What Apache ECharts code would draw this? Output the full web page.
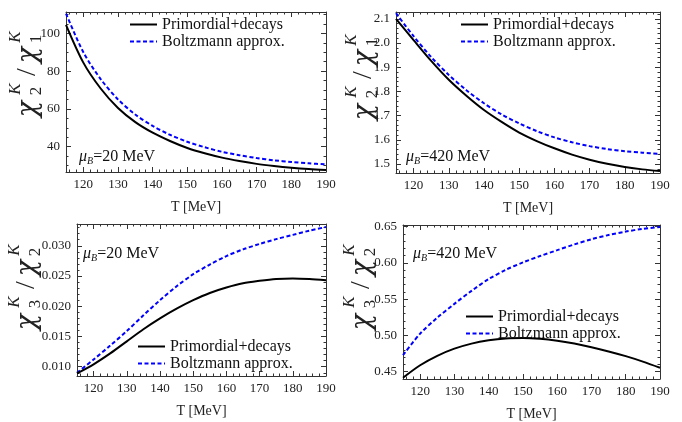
<!DOCTYPE html>
<html>
<head>
<meta charset="utf-8">
<script src="https://cdn.jsdelivr.net/npm/echarts@6/dist/echarts.min.js"></script>
<style>
  html, body { margin: 0; padding: 0; background: #fff; }
  #chart { width: 682px; height: 422px; }
</style>
</head>
<body>
<div id="chart"></div>
<script>
// temperature grid (MeV)
const T = [115, 120, 125, 130, 135, 140, 145, 150, 155, 160, 165, 170, 175, 180, 185, 190]

// chi2/chi1, muB = 20 MeV
const p1Primordial = [104.5, 84.5, 70.8, 60.5, 53.0, 47.4, 43.0, 39.3, 36.5, 34.2, 32.4, 30.9, 29.8, 28.9, 28.2, 27.7]
const p1Boltzmann = [110.5, 90.0, 75.8, 65.0, 57.0, 51.0, 46.3, 42.6, 39.7, 37.3, 35.5, 34.0, 32.8, 31.9, 31.2, 30.6]
// chi2/chi1, muB = 420 MeV
const p2Primordial = [2.100, 2.012, 1.926, 1.848, 1.782, 1.723, 1.674, 1.630, 1.595, 1.565, 1.539, 1.518, 1.501, 1.488, 1.478, 1.471]
const p2Boltzmann = [2.123, 2.028, 1.942, 1.868, 1.805, 1.751, 1.705, 1.668, 1.636, 1.610, 1.590, 1.574, 1.562, 1.553, 1.547, 1.542]
// chi3/chi2, muB = 20 MeV
const p3Primordial = [0.0089, 0.0104, 0.0122, 0.0142, 0.0162, 0.0180, 0.0196, 0.0210, 0.0222, 0.0231, 0.0238, 0.0242, 0.0245, 0.0246, 0.0245, 0.0243]
const p3Boltzmann = [0.0090, 0.0112, 0.0135, 0.0159, 0.0185, 0.0210, 0.0233, 0.0253, 0.0269, 0.0283, 0.0294, 0.0303, 0.0311, 0.0318, 0.0325, 0.0331]
// chi3/chi2, muB = 420 MeV
const p4Primordial = [0.4418, 0.4590, 0.4720, 0.4818, 0.4888, 0.4934, 0.4960, 0.4966, 0.4955, 0.4928, 0.4888, 0.4838, 0.4780, 0.4715, 0.4640, 0.4555]
const p4Boltzmann = [0.4728, 0.5025, 0.5245, 0.5436, 0.5615, 0.5778, 0.5905, 0.6007, 0.6095, 0.6176, 0.6255, 0.6327, 0.6385, 0.6432, 0.6470, 0.6495]

// tick labels
const xTicks = [120, 130, 140, 150, 160, 170, 180, 190]
const p1Ticks = [40, 60, 80, 100]
const p2Ticks = [1.5, 1.6, 1.7, 1.8, 1.9, 2.0, 2.1]
const p3Ticks = [0.010, 0.015, 0.020, 0.025, 0.030]
const p4Ticks = [0.45, 0.50, 0.55, 0.60, 0.65]

const seriesNames = ['Primordial+decays', 'Boltzmann approx.']
const serif = 'Liberation Serif'
const frame = '#333'

// minor tick positions between min and max
const minorTicks = (min, max, step) => {
    const out = []
    const start = Math.ceil(min / step - 1e-9)
    for (let k = start; k * step <= max + 1e-9; k++) out.push(+(k * step).toFixed(6))
    return out
}

const xAxes = []
const yAxes = []
const series = []

function addPanel(g, p) {
    const xi = xAxes.length
    const yi = yAxes.length
    const xMinor = minorTicks(115, 190, 2)
    const yMinor = minorTicks(p.ymin, p.ymax, p.minor)
    const base = (extra) => Object.assign({
        gridIndex: g, type: 'value', splitLine: { show: false },
        axisLabel: { show: false }
    }, extra)
    const line = { show: true, onZero: false, lineStyle: { color: frame, width: 1 } }
    const tick = (vals, len) => ({ show: true, inside: true, length: len, customValues: vals, lineStyle: { color: frame, width: 1 } })

    // bottom
    xAxes.push(base({
        position: 'bottom', min: 115, max: 190, axisLine: line, axisTick: tick(xTicks, 5),
        axisLabel: { show: true, customValues: xTicks, fontFamily: serif, fontSize: 13, color: '#222', margin: 6 },
        name: 'T [MeV]', nameLocation: 'middle', nameGap: 28,
        nameTextStyle: { fontFamily: serif, fontSize: 14, color: '#222' }
    }))
    xAxes.push(base({ position: 'bottom', min: 115, max: 190, axisLine: { show: false }, axisTick: tick(xMinor, 2.5) }))
    // top
    xAxes.push(base({ position: 'top', min: 115, max: 190, axisLine: line, axisTick: tick(xTicks, 5) }))
    xAxes.push(base({ position: 'top', min: 115, max: 190, axisLine: { show: false }, axisTick: tick(xMinor, 2.5) }))
    // left
    yAxes.push(base({
        position: 'left', min: p.ymin, max: p.ymax, axisLine: line, axisTick: tick(p.ticks, 5),
        axisLabel: { show: true, customValues: p.ticks, fontFamily: serif, fontSize: 13, color: '#222', margin: 6, formatter: p.fmt }
    }))
    yAxes.push(base({ position: 'left', min: p.ymin, max: p.ymax, axisLine: { show: false }, axisTick: tick(yMinor, 2.5) }))
    // right
    yAxes.push(base({ position: 'right', min: p.ymin, max: p.ymax, axisLine: line, axisTick: tick(p.ticks, 5) }))
    yAxes.push(base({ position: 'right', min: p.ymin, max: p.ymax, axisLine: { show: false }, axisTick: tick(yMinor, 2.5) }))

    series.push({
        name: seriesNames[0], type: 'line', xAxisIndex: xi, yAxisIndex: yi,
        data: T.map((t, i) => [t, p.primordial[i]]),
        showSymbol: false, symbol: 'none', smooth: 0.3,
        lineStyle: { color: '#000', width: 2 }, itemStyle: { color: '#000' }, z: 3
    })
    series.push({
        name: seriesNames[1], type: 'line', xAxisIndex: xi, yAxisIndex: yi,
        data: T.map((t, i) => [t, p.boltzmann[i]]),
        showSymbol: false, symbol: 'none', smooth: 0.3,
        lineStyle: { color: '#0000ff', width: 2, type: [4, 2.5] }, itemStyle: { color: '#0000ff' }, z: 2
    })
}

const grids = [
    { left: 66, top: 12, width: 260, height: 160 },
    { left: 396, top: 12, width: 264, height: 161 },
    { left: 77, top: 224, width: 249, height: 152 },
    { left: 403, top: 225, width: 257, height: 155 }
]

addPanel(0, { ymin: 26.6, ymax: 111.3, ticks: p1Ticks, minor: 5, fmt: v => v.toFixed(0), primordial: p1Primordial, boltzmann: p1Boltzmann })
addPanel(1, { ymin: 1.463, ymax: 2.128, ticks: p2Ticks, minor: 0.02, fmt: v => v.toFixed(1), primordial: p2Primordial, boltzmann: p2Boltzmann })
addPanel(2, { ymin: 0.00847, ymax: 0.0336, ticks: p3Ticks, minor: 0.001, fmt: v => v.toFixed(3), primordial: p3Primordial, boltzmann: p3Boltzmann })
addPanel(3, { ymin: 0.44, ymax: 0.6523, ticks: p4Ticks, minor: 0.01, fmt: v => v.toFixed(2), primordial: p4Primordial, boltzmann: p4Boltzmann })

// legends, one per panel
const legendAt = [[129, 16], [460, 16], [137, 338], [465, 308]]
const legends = legendAt.map(([l, t]) => ({
    data: seriesNames, orient: 'vertical', left: l, top: t, padding: 0,
    itemWidth: 27, itemHeight: 17, itemGap: 0, selectedMode: false,
    itemStyle: { opacity: 0 },
    lineStyle: { width: 2, opacity: 1 },
    textStyle: { fontFamily: serif, fontSize: 16, color: '#111', lineHeight: 17 }
}))

// chi ratio y-axis title, drawn rotated
function chiLabel(cx, cy, a, b) {
    const chi = (x) => ({ type: 'text', x: x, y: 0, style: { text: 'χ', font: 'italic 27px "DejaVu Serif"', fill: '#222', align: 'center', verticalAlign: 'middle' } })
    const small = (x, y, s, it) => ({ type: 'text', x: x, y: y, style: { text: s, font: (it ? 'italic ' : '') + '17px "Liberation Serif"', fill: '#222', align: 'center', verticalAlign: 'middle' } })
    return {
        type: 'group', x: cx, y: cy, rotation: Math.PI / 2,
        children: [
            chi(-34), small(-14, -13, 'K', true), small(-16, 8, a, false),
            { type: 'text', x: 3, y: -1, style: { text: '/', font: '28px "Liberation Serif"', fill: '#222', align: 'center', verticalAlign: 'middle' } },
            chi(20), small(38, -13, 'K', true), small(36, 8, b, false)
        ]
    }
}

function muLabel(x, y, val) {
    return {
        type: 'text', x: x, y: y,
        style: {
            text: '{m|μ}{s|B}{n|=' + val + ' MeV}',
            verticalAlign: 'middle',
            rich: {
                m: { fontFamily: serif, fontStyle: 'italic', fontSize: 16, fill: '#111', lineHeight: 18 },
                s: { fontFamily: serif, fontStyle: 'italic', fontSize: 10, fill: '#111', verticalAlign: 'bottom', lineHeight: 12 },
                n: { fontFamily: serif, fontSize: 16, fill: '#111', lineHeight: 18 }
            }
        }
    }
}

const chart = echarts.init(document.getElementById('chart'), null, { renderer: 'canvas' })
chart.setOption({
    backgroundColor: '#fff',
    animation: false,
    grid: grids.map(g => Object.assign({ show: false }, g)),
    xAxis: xAxes,
    yAxis: yAxes,
    legend: legends,
    series: series,
    graphic: [
        chiLabel(29, 75, '2', '1'),
        chiLabel(365, 78, '2', '1'),
        chiLabel(28, 288, '3', '2'),
        chiLabel(363, 288, '3', '2'),
        muLabel(79, 157, '20'),
        muLabel(406, 157, '420'),
        muLabel(83, 254, '20'),
        muLabel(413, 254, '420')
    ]
})
</script>
</body>
</html>
